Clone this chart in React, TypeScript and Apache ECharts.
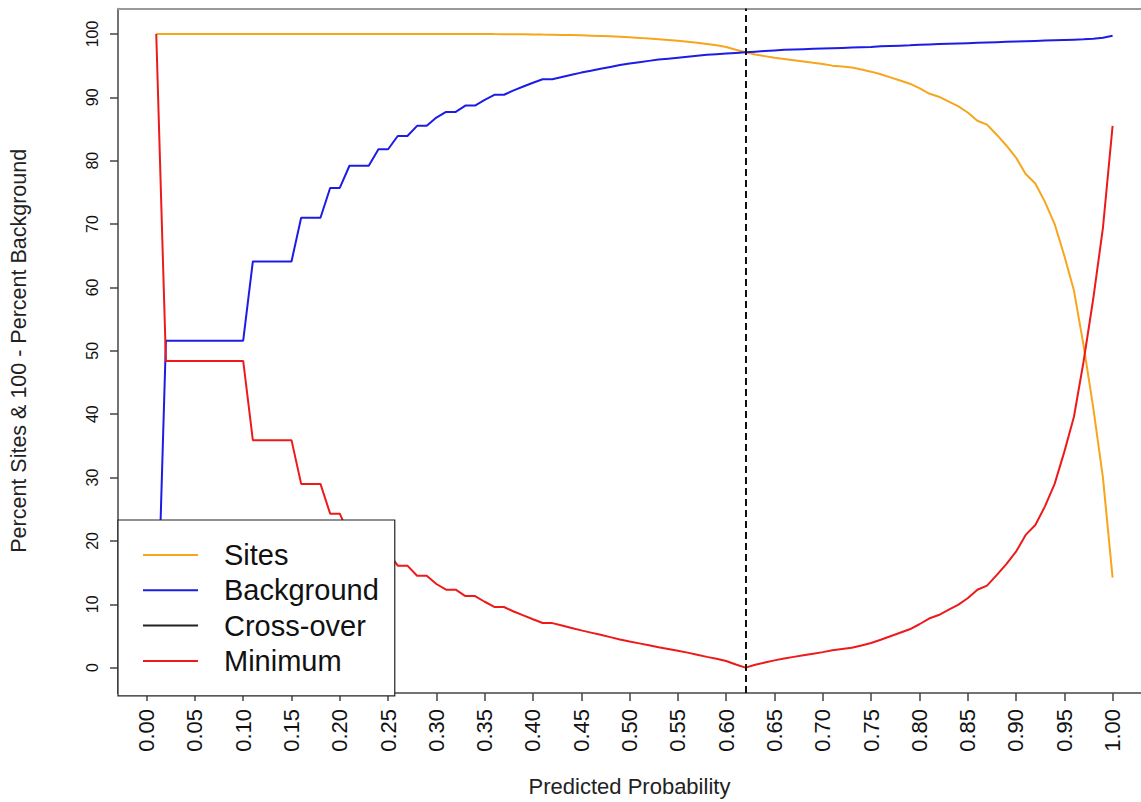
import React, { useEffect, useRef } from "react";
import * as echarts from "echarts";

// Thresholds 0.01 .. 1.00
const thresholds: number[] = Array.from({ length: 100 }, (_, i) => +((i + 1) / 100).toFixed(2));

const sites: number[] = [
  100, 100, 100, 100, 100, 100, 100, 100, 100, 100,
  100, 100, 100, 100, 100, 100, 100, 100, 100, 100,
  100, 100, 100, 100, 100, 100, 100, 100, 100, 100,
  100, 100, 100, 100, 100, 99.98, 99.97, 99.96, 99.95, 99.93,
  99.9, 99.88, 99.85, 99.82, 99.78, 99.73, 99.68, 99.62, 99.55, 99.47,
  99.38, 99.28, 99.17, 99.05, 98.92, 98.77, 98.6, 98.4, 98.2, 97.95,
  97.5, 97.1, 96.75, 96.5, 96.25, 96.05, 95.85, 95.65, 95.45, 95.25,
  95.0, 94.85, 94.7, 94.4, 94.05, 93.65, 93.15, 92.65, 92.15, 91.45,
  90.6, 90.1, 89.35, 88.6, 87.6, 86.3, 85.7, 84.1, 82.4, 80.5,
  77.9, 76.4, 73.5, 70.0, 65.0, 59.5, 50.8, 41.0, 30.0, 14.2,
];

const background: number[] = [
  0.0, 51.6, 51.6, 51.6, 51.6, 51.6, 51.6, 51.6, 51.6, 51.6,
  64.1, 64.1, 64.1, 64.1, 64.1, 71.0, 71.0, 71.0, 75.7, 75.7,
  79.2, 79.2, 79.2, 81.8, 81.8, 83.9, 83.9, 85.5, 85.5, 86.8,
  87.7, 87.7, 88.7, 88.7, 89.6, 90.4, 90.4, 91.1, 91.7, 92.3,
  92.85, 92.85, 93.2, 93.55, 93.9, 94.2, 94.5, 94.8, 95.1, 95.35,
  95.55, 95.75, 95.95, 96.1, 96.25, 96.4, 96.55, 96.7, 96.8, 96.9,
  97.0, 97.1, 97.2, 97.3, 97.4, 97.5, 97.55, 97.6, 97.65, 97.7,
  97.75, 97.8, 97.85, 97.9, 97.95, 98.05, 98.1, 98.15, 98.2, 98.3,
  98.35, 98.4, 98.45, 98.5, 98.55, 98.6, 98.65, 98.7, 98.75, 98.8,
  98.85, 98.9, 98.95, 99.0, 99.05, 99.1, 99.15, 99.25, 99.4, 99.7,
];

const minimum: number[] = [
  100, 48.4, 48.4, 48.4, 48.4, 48.4, 48.4, 48.4, 48.4, 48.4,
  35.9, 35.9, 35.9, 35.9, 35.9, 29.0, 29.0, 29.0, 24.3, 24.3,
  20.8, 20.8, 20.8, 18.2, 18.2, 16.1, 16.1, 14.5, 14.5, 13.2,
  12.3, 12.3, 11.3, 11.3, 10.4, 9.58, 9.57, 8.86, 8.25, 7.63,
  7.05, 7.03, 6.65, 6.27, 5.88, 5.53, 5.18, 4.82, 4.45, 4.12,
  3.83, 3.53, 3.22, 2.95, 2.67, 2.37, 2.05, 1.7, 1.4, 1.05,
  0.5, 0.0, 0.45, 0.8, 1.15, 1.45, 1.7, 1.95, 2.2, 2.45,
  2.75, 2.95, 3.15, 3.5, 3.9, 4.4, 4.95, 5.5, 6.05, 6.85,
  7.75, 8.3, 9.1, 9.9, 10.95, 12.3, 12.95, 14.6, 16.35, 18.3,
  20.95, 22.5, 25.45, 29.0, 34.05, 39.6, 48.35, 58.25, 69.4, 85.5,
];

const crossOver = 0.62;

const xTicks: number[] = [0, 0.05, 0.1, 0.15, 0.2, 0.25, 0.3, 0.35, 0.4, 0.45, 0.5, 0.55, 0.6, 0.65, 0.7, 0.75, 0.8, 0.85, 0.9, 0.95, 1.0];
const yTicks: number[] = [0, 10, 20, 30, 40, 50, 60, 70, 80, 90, 100];

const FONT = "'Liberation Sans', Arial, Helvetica, sans-serif";
const X_MIN = -0.0296;
const X_MAX = 1.0294;

export default function App() {
  const ref = useRef<HTMLDivElement>(null);
  useEffect(() => {
    if (!ref.current) return;
    const chart = echarts.init(ref.current, null, { renderer: "svg" });
    const pair = (arr: number[]) => thresholds.map((t, i) => [t, arr[i]]);
    chart.setOption({
      animation: false,
      backgroundColor: "#ffffff",
      textStyle: { fontFamily: FONT },
      grid: {
        left: 118,
        top: 8.6,
        right: 0,
        height: 687,
        show: false,
      },
      xAxis: [
        {
          type: "value",
          min: X_MIN,
          max: X_MAX,
          position: "bottom",
          name: "Predicted Probability",
          nameLocation: "middle",
          nameGap: 82,
          nameTextStyle: { fontSize: 22, color: "#222", fontFamily: FONT },
          axisLine: { show: true, onZero: false, lineStyle: { color: "#444", width: 1.5 } },
          axisTick: { show: true, length: 8, customValues: xTicks, lineStyle: { color: "#444", width: 1.5 } },
          axisLabel: {
            customValues: xTicks,
            rotate: 90,
            margin: 16,
            fontSize: 22,
            color: "#111",
            fontFamily: FONT,
            formatter: (v: number) => v.toFixed(2),
          },
          splitLine: { show: false },
        },
        {
          type: "value",
          min: X_MIN,
          max: X_MAX,
          position: "top",
          axisLine: { show: true, onZero: false, lineStyle: { color: "#999", width: 2 } },
          axisTick: { show: false },
          axisLabel: { show: false },
          splitLine: { show: false },
        },
      ],
      yAxis: {
        type: "value",
        min: -4,
        max: 104,
        name: "Percent Sites & 100 - Percent Background",
        nameLocation: "middle",
        nameGap: 88,
        nameTextStyle: { fontSize: 21.5, color: "#222", fontFamily: FONT },
        axisLine: { show: true, onZero: false, lineStyle: { color: "#444", width: 1.5 } },
        axisTick: { show: true, length: 8, customValues: yTicks, lineStyle: { color: "#444", width: 1.5 } },
        axisLabel: {
          customValues: yTicks,
          rotate: 90,
          margin: 18,
          fontSize: 16,
          color: "#111",
          fontFamily: FONT,
        },
        splitLine: { show: false },
      },
      legend: {
        orient: "vertical",
        left: 118,
        top: 520,
        padding: [20, 16, 20, 25],
        icon: "rect",
        itemWidth: 55,
        itemHeight: 2,
        itemGap: 5.3,
        backgroundColor: "#ffffff",
        borderColor: "#222",
        borderWidth: 1.2,
        borderRadius: 0,
        textStyle: { fontSize: 29, color: "#111", fontFamily: FONT, lineHeight: 30, padding: [0, 0, 0, 21] },
        data: [
          { name: "Sites" },
          { name: "Background" },
          { name: "Cross-over" },
          { name: "Minimum" },
        ],
      },
      series: [
        {
          name: "Sites",
          type: "line",
          data: pair(sites),
          symbol: "none",
          lineStyle: { color: "#f7a51c", width: 2 },
          itemStyle: { color: "#f7a51c" },
          z: 3,
        },
        {
          name: "Background",
          type: "line",
          data: pair(background),
          symbol: "none",
          lineStyle: { color: "#1c1ce6", width: 2 },
          itemStyle: { color: "#1c1ce6" },
          z: 3,
        },
        {
          name: "Cross-over",
          type: "line",
          data: [],
          symbol: "none",
          lineStyle: { color: "#222", width: 2 },
          itemStyle: { color: "#222" },
          markLine: {
            silent: true,
            symbol: "none",
            label: { show: false },
            lineStyle: { color: "#111", width: 2, type: [7, 4] },
            data: [{ xAxis: crossOver }],
          },
          z: 3,
        },
        {
          name: "Minimum",
          type: "line",
          data: pair(minimum),
          symbol: "none",
          lineStyle: { color: "#ee1a1a", width: 2 },
          itemStyle: { color: "#ee1a1a" },
          z: 3,
        },
      ],
    });
    return () => chart.dispose();
  }, []);
  return (
    <div
      ref={ref}
      style={{ position: "absolute", left: 0, top: 0, width: 1141, height: 802, background: "#fff" }}
    />
  );
}
